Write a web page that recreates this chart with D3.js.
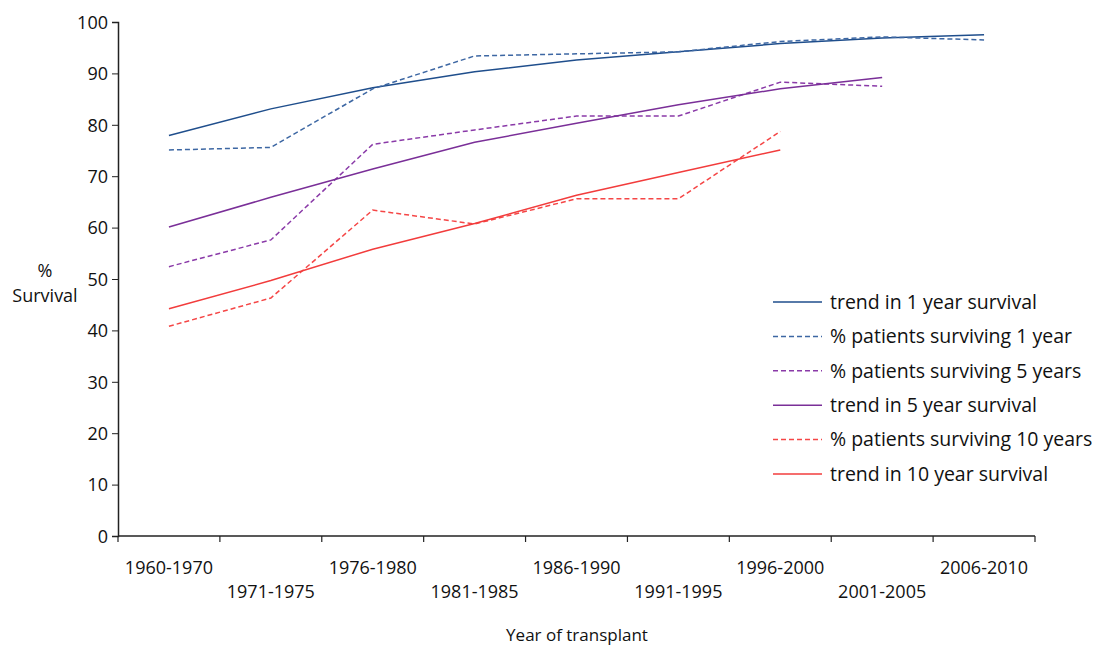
<!DOCTYPE html>
<html lang="en">
<head>
	<meta charset="utf-8">
	<title>Transplant survival</title>
	<script src="https://d3js.org/d3.v7.min.js"></script>
	<style>
		body { margin: 0; background: #fff; }
		text { font-family: "Open Sans", Lato, sans-serif; fill: #111; }
	</style>
</head>
<body>
	<script>
		var periods = ["1960-1970", "1971-1975", "1976-1980", "1981-1985", "1986-1990",
			"1991-1995", "1996-2000", "2001-2005", "2006-2010"];
		var yTicks = [0, 10, 20, 30, 40, 50, 60, 70, 80, 90, 100];

		// values (null = no point)
		var trend1 = [77.9, 83.1, 87.2, 90.3, 92.6, 94.2, 95.8, 96.9, 97.5];
		var pct1 = [75.1, 75.6, 87.0, 93.4, 93.8, 94.2, 96.2, 97.1, 96.5];
		var pct5 = [52.4, 57.6, 76.2, 79.0, 81.7, 81.7, 88.3, 87.5, null];
		var trend5 = [60.1, 65.9, 71.4, 76.6, 80.3, 83.9, 87.0, 89.2, null];
		var pct10 = [40.8, 46.3, 63.4, 60.7, 65.6, 65.6, 78.7, null, null];
		var trend10 = [44.2, 49.7, 55.8, 60.8, 66.3, 70.7, 75.1, null, null];

		var series = [
			{ name: "trend in 1 year survival", values: trend1, color: "#1f4e8c", dash: null },
			{ name: "% patients surviving 1 year", values: pct1, color: "#3d67a3", dash: "5,3" },
			{ name: "% patients surviving 5 years", values: pct5, color: "#8a3aa8", dash: "5,3" },
			{ name: "trend in 5 year survival", values: trend5, color: "#7a2f98", dash: null },
			{ name: "% patients surviving 10 years", values: pct10, color: "#f54646", dash: "5,3" },
			{ name: "trend in 10 year survival", values: trend10, color: "#f23c3c", dash: null }
		];

		var w = 1109, h = 646;
		var mLeft = 118, mRight = 1035, mTop = 22, mBottom = 536;

		var svg = d3.select("body").append("svg")
			.attr("width", w)
			.attr("height", h);

		var x = d3.scaleBand().domain(periods).range([mLeft, mRight]).padding(0);
		var y = d3.scaleLinear().domain([0, 100]).range([mBottom, mTop]);

		// y axis
		var yAxis = svg.append("g")
			.attr("transform", "translate(" + mLeft + ",0)")
			.call(d3.axisLeft(y).tickValues(yTicks).tickSize(6).tickPadding(4));
		yAxis.selectAll("text").style("font-size", "18px").attr("dy", "0.35em")
			.style("font-family", "'Open Sans', sans-serif");
		yAxis.select(".domain").attr("stroke", "#222").attr("stroke-width", 1.5);
		yAxis.selectAll(".tick line").attr("stroke", "#222");

		// x axis: ticks on category boundaries, labels staggered
		var boundaries = d3.range(periods.length + 1).map(function(i) { return mLeft + i * x.bandwidth(); });
		svg.append("line")
			.attr("x1", mLeft).attr("x2", mRight)
			.attr("y1", mBottom).attr("y2", mBottom)
			.attr("stroke", "#222").attr("stroke-width", 1.5);
		svg.selectAll(".xtick")
			.data(boundaries)
			.enter().append("line")
			.attr("x1", function(d) { return d; }).attr("x2", function(d) { return d; })
			.attr("y1", mBottom).attr("y2", mBottom + 6)
			.attr("stroke", "#222").attr("stroke-width", 1.2);
		svg.selectAll(".xlabel")
			.data(periods)
			.enter().append("text")
			.attr("x", function(d) { return x(d) + x.bandwidth() / 2; })
			.attr("y", function(d, i) { return i % 2 === 0 ? 574 : 598; })
			.attr("text-anchor", "middle")
			.style("font-size", "18px")
			.text(function(d) { return d; });

		// axis titles
		svg.append("text").attr("x", 577).attr("y", 641).attr("text-anchor", "middle")
			.style("font-size", "17px").text("Year of transplant");
		svg.append("text").attr("x", 45).attr("y", 277).attr("text-anchor", "middle")
			.style("font-size", "18px").text("%");
		svg.append("text").attr("x", 45).attr("y", 302).attr("text-anchor", "middle")
			.style("font-size", "18px").text("Survival");

		// lines
		var line = d3.line()
			.defined(function(d) { return d != null; })
			.x(function(d, i) { return x(periods[i]) + x.bandwidth() / 2; })
			.y(function(d) { return y(d); });

		svg.selectAll(".series")
			.data(series)
			.enter().append("path")
			.attr("fill", "none")
			.attr("stroke", function(d) { return d.color; })
			.attr("stroke-width", 1.5)
			.attr("stroke-dasharray", function(d) { return d.dash; })
			.attr("d", function(d) { return line(d.values); });

		// legend
		var legend = svg.selectAll(".legend")
			.data(series)
			.enter().append("g")
			.attr("transform", function(d, i) { return "translate(773," + (302 + i * 34.4) + ")"; });
		legend.append("line")
			.attr("x1", 0).attr("x2", 49)
			.attr("stroke", function(d) { return d.color; })
			.attr("stroke-width", 1.5)
			.attr("stroke-dasharray", function(d) { return d.dash; });
		legend.append("text")
			.attr("x", 57).attr("dy", "0.35em")
			.style("font-size", "19.5px")
			.text(function(d) { return d.name; });
	</script>
</body>
</html>
